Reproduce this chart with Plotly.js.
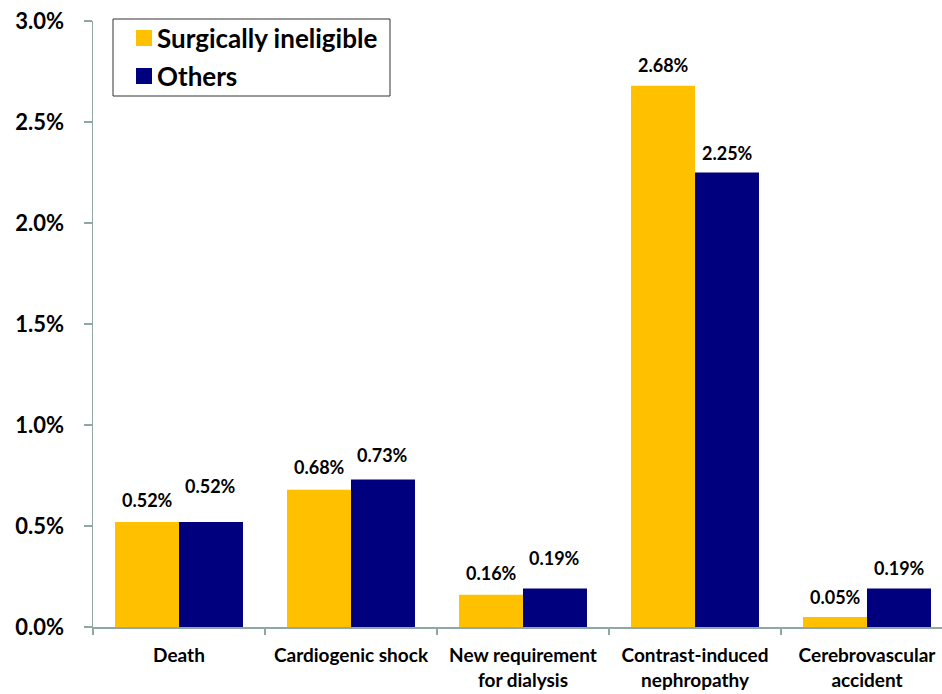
<!DOCTYPE html>
<html>
<head>
<meta charset="utf-8">
<script src="https://cdn.plot.ly/plotly-3.0.1.min.js"></script>
<style>
  html, body { margin: 0; padding: 0; background: #ffffff; }
  #chart { width: 942px; height: 694px; }
</style>
</head>
<body>
<div id="chart"></div>
<script>
// In-hospital complications by patient group (percent of patients)
const categories = [
  'Death',
  'Cardiogenic shock',
  'New requirement<br>for dialysis',
  'Contrast-induced<br>nephropathy',
  'Cerebrovascular<br>accident'
];
const seriesNames = ['Surgically ineligible', 'Others'];
const ineligibleValues = [0.52, 0.68, 0.16, 2.68, 0.05];
const othersValues = [0.52, 0.73, 0.19, 2.25, 0.19];
const yTickValues = [0, 0.5, 1.0, 1.5, 2.0, 2.5, 3.0];

// Presentation settings
const colors = ['#FFC000', '#00007F'];
const axisColor = '#8FA8A2';
const fontFamily = 'Lato, "Open Sans", sans-serif';
// vertical lift (px) of each value label above its bar top
const labelLift = [
  [22, 23, 22, 21, 20],
  [36, 25, 31, 20, 21]
];

const margin = { l: 93, r: 0, t: 21, b: 67 };
const width = 942, height = 694;
const plotW = width - margin.l - margin.r;
const plotH = height - margin.t - margin.b;
const xRange = [-0.5, 4.436];
const bargap = 0.256;

const seriesValues = [ineligibleValues, othersValues];

const traces = seriesValues.map((vals, i) => ({
  type: 'bar',
  name: seriesNames[i],
  x: categories,
  y: vals,
  marker: { color: colors[i], line: { width: 0 } },
  hoverinfo: 'x+y',
  showlegend: false
}));

// value labels over each bar
const pxPerCat = plotW / (xRange[1] - xRange[0]);
const barPx = pxPerCat * (1 - bargap) / 2;
const annotations = [];
seriesValues.forEach((vals, i) => {
  vals.forEach((v, j) => {
    annotations.push({
      xref: 'x', yref: 'y',
      x: categories[j], y: v,
      xshift: (i === 0 ? -1 : 1) * barPx / 2,
      yshift: labelLift[i][j],
      yanchor: 'middle', xanchor: 'center',
      text: '<b>' + v.toFixed(2) + '%</b>',
      showarrow: false,
      font: { family: fontFamily, size: 18, color: '#000000' }
    });
  });
});

// legend box drawn in paper space
const px2x = px => (px - margin.l) / plotW;
const px2y = py => (margin.t + plotH - py) / plotH;
const shapes = [
  {
    type: 'rect', xref: 'paper', yref: 'paper',
    x0: px2x(113), x1: px2x(390), y0: px2y(96), y1: px2y(19),
    line: { color: '#333333', width: 1 }, fillcolor: 'rgba(0,0,0,0)'
  }
];
const legendRows = [38, 76];
seriesNames.forEach((name, i) => {
  const cy = legendRows[i];
  shapes.push({
    type: 'rect', xref: 'paper', yref: 'paper',
    x0: px2x(136), x1: px2x(152), y0: px2y(cy + 8), y1: px2y(cy - 8),
    line: { width: 0 }, fillcolor: colors[i]
  });
  annotations.push({
    xref: 'paper', yref: 'paper',
    x: px2x(155), y: px2y(cy),
    xanchor: 'left', yanchor: 'middle',
    text: '<b>' + name + '</b>',
    showarrow: false,
    font: { family: fontFamily, size: 26, color: '#000000' }
  });
});

const layout = {
  width: width,
  height: height,
  margin: margin,
  paper_bgcolor: '#ffffff',
  plot_bgcolor: '#ffffff',
  barmode: 'group',
  bargap: bargap,
  bargroupgap: 0,
  showlegend: false,
  font: { family: fontFamily, color: '#000000' },
  xaxis: {
    type: 'category',
    range: xRange,
    showline: true,
    linecolor: axisColor,
    linewidth: 1.5,
    showgrid: false,
    zeroline: false,
    ticks: 'outside',
    tickson: 'boundaries',
    ticklen: 6,
    tickcolor: axisColor,
    tickwidth: 1.5,
    tickfont: { family: fontFamily, size: 19, color: '#000000', weight: 'bold' },
    ticklabelstandoff: 11,
    fixedrange: true
  },
  yaxis: {
    range: [0, 3],
    tickvals: yTickValues,
    ticktext: yTickValues.map(v => v.toFixed(1) + '%'),
    showline: true,
    linecolor: axisColor,
    linewidth: 1.5,
    showgrid: false,
    zeroline: false,
    ticks: 'outside',
    ticklen: 8,
    tickcolor: axisColor,
    tickwidth: 1.5,
    tickfont: { family: fontFamily, size: 22, color: '#000000', weight: 'bold' },
    ticklabelstandoff: 15,
    fixedrange: true
  },
  shapes: shapes,
  annotations: annotations
};

Plotly.newPlot('chart', traces, layout, { displayModeBar: false, staticPlot: true });
</script>
</body>
</html>
